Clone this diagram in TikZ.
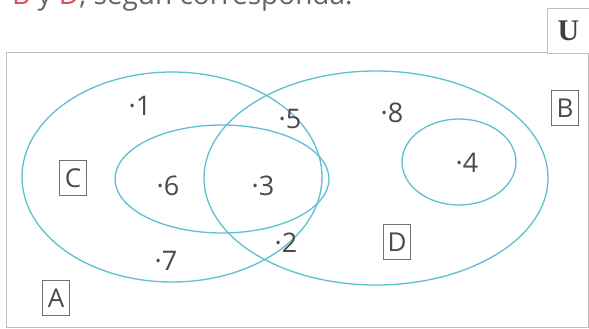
\documentclass[tikz,border=0pt]{standalone}
\usepackage{fontspec}
\setmainfont{Open Sans}
\newfontfamily\serifU{Liberation Serif}
\definecolor{venn}{HTML}{5EBFD0}
\definecolor{txt}{HTML}{4A4A4A}
\definecolor{boxc}{HTML}{707070}
\definecolor{redc}{HTML}{E8485A}
\begin{document}
\begin{tikzpicture}[x=1pt,y=-1pt,
  setline/.style={draw=venn,line width=1.3pt},
  elem/.style={text=txt,font=\fontsize{27}{27}\selectfont,inner sep=0pt},
  lbl/.style={draw=boxc,line width=0.9pt,text=txt,font=\fontsize{26}{26}\selectfont,inner sep=3pt,minimum width=27pt,minimum height=35pt},
  frame/.style={draw=black!25,line width=1pt}]
\useasboundingbox (0,0) rectangle (589,329);
\clip (0,0) rectangle (589,329);
\fill[white] (0,0) rectangle (589,329);
% header text (cut off)
\node[anchor=base west,inner sep=0pt,text=txt!85,font=\fontsize{28}{28}\selectfont] (hdr) at (12,5) {\textcolor{redc}{B} y \textcolor{redc}{D}, según corresponda.};
% universe
\draw[frame] (6,53) rectangle (588,327);
\node[frame,fill=white,minimum width=42pt,minimum height=45pt,inner sep=0pt,anchor=north west,font=\serifU\bfseries\fontsize{30}{30}\selectfont,text=black!75] (U) at (547,8) {U};
% sets
\draw[setline] (172,177) ellipse [x radius=150,y radius=105];
\draw[setline] (376,178) ellipse [x radius=172,y radius=107];
\draw[setline] (222,179) ellipse [x radius=107,y radius=54];
\draw[setline] (459,162) ellipse [x radius=57,y radius=43];
% elements
\node[elem] (e1) at (140,106) {·1};
\node[elem] (e5) at (290,119) {·5};
\node[elem] (e8) at (392,113) {·8};
\node[elem] (e4) at (467,163) {·4};
\node[elem] (e6) at (168,186) {·6};
\node[elem] (e3) at (263,186) {·3};
\node[elem] (e2) at (286,243) {·2};
\node[elem] (e7) at (166,261) {·7};
% labels
\node[lbl] (C) at (73,178) {C};
\node[lbl] (B) at (565,108) {B};
\node[lbl] (D) at (397,242) {D};
\node[lbl] (A) at (56,298) {A};
\end{tikzpicture}
\end{document}
